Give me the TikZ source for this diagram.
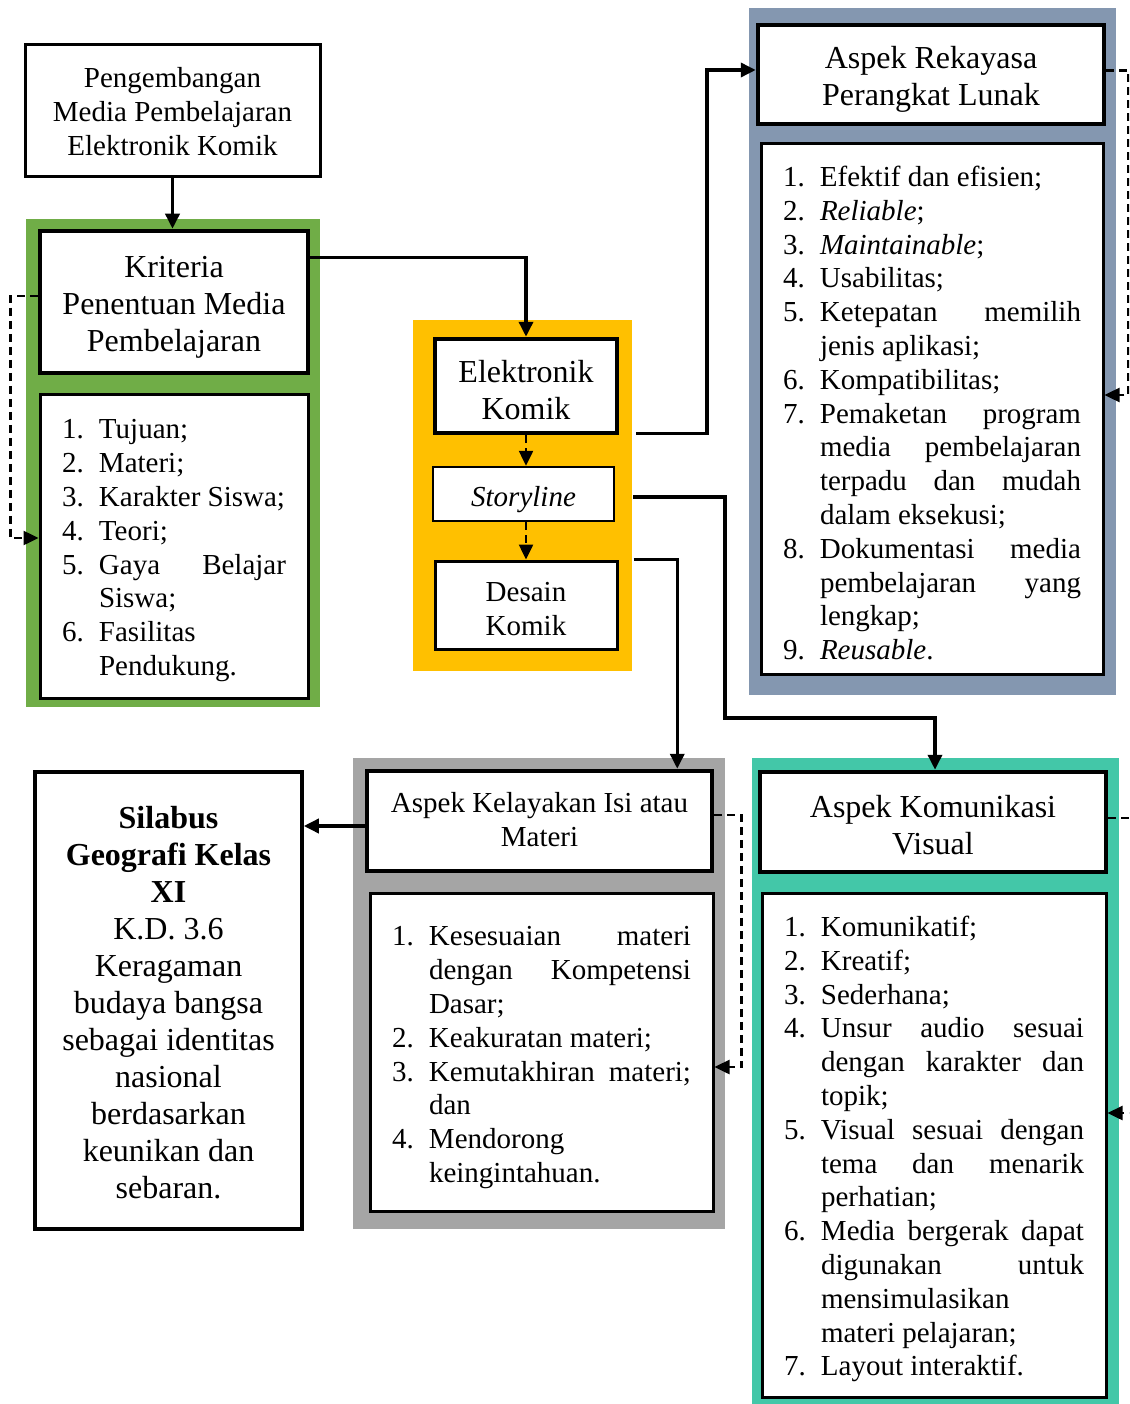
\documentclass[tikz,border=0pt]{standalone}
\usepackage{fontspec}
\setmainfont{Liberation Serif}
\usepackage{tikz}
\usetikzlibrary{positioning,arrows.meta}

\definecolor{panelgreen}{RGB}{112,173,71}
\definecolor{panelyellow}{RGB}{255,192,0}
\definecolor{panelblue}{RGB}{132,151,176}
\definecolor{panelgrey}{RGB}{165,165,165}
\definecolor{panelteal}{RGB}{67,199,168}

\hyphenpenalty=10000
\exhyphenpenalty=10000
\tolerance=10000
\newcommand{\butir}[2]{\par\noindent\hangindent=37pt\hangafter=1\makebox[37pt][l]{#1}#2\par}
\newcommand{\judul}[2]{\raisebox{-#1pt}[\height][\depth]{\begin{tabular}{@{}c@{}}#2\end{tabular}}}

\begin{document}
\begin{tikzpicture}[x=1pt, y=-1pt,
  titlebox/.style={draw, line width=4.5pt, fill=white, inner sep=0pt, font=\fontsize{32}{37}\selectfont},
  smallbox/.style={draw, line width=3pt, fill=white, inner sep=0pt, font=\fontsize{29}{34}\selectfont},
  listbox/.style={draw, line width=3pt, fill=white, align=justify, inner xsep=22pt, inner ysep=0pt, font=\fontsize{29}{33.8}\selectfont},
  conn/.style={line width=3.5pt, -{Triangle[length=15pt,width=14pt]}},
  dconn/.style={line width=2.5pt, dash pattern=on 8pt off 5pt, -{Triangle[length=15pt,width=14pt]}}]
  \useasboundingbox (0,0) rectangle (1129,1404);
  \clip (0,0) rectangle (1129,1404);

  % Panels
  \fill[panelgreen] (26,219) rectangle (320,707);
  \fill[panelyellow] (413,320) rectangle (632,671);
  \fill[panelblue] (749,8) rectangle (1116,695);
  \fill[panelgrey] (353,758) rectangle (725,1229);
  \fill[panelteal] (752,758) rectangle (1119,1404);

  % Left column
  \node[smallbox, minimum width=295, minimum height=132] (peng) at (172.5,111) {\judul{4}{Pengembangan\\Media Pembelajaran\\Elektronik Komik}};
  \node[titlebox, minimum width=268, minimum height=142] (krit) at (174,302) {\judul{5}{Kriteria\\Penentuan Media\\Pembelajaran}};
  \node[listbox, text width=224, minimum height=304] (kritlist) at (174,546) {%
    \vspace*{-5pt}
    \butir{1.}{Tujuan;}
    \butir{2.}{Materi;}
    \butir{3.}{Karakter Siswa;}
    \butir{4.}{Teori;}
    \butir{5.}{Gaya Belajar\linebreak Siswa;}
    \butir{6.}{Fasilitas Pendukung.}};

  % Comic
  \node[titlebox, minimum width=182, minimum height=94] (elek) at (526,386) {\judul{8}{Elektronik\\Komik}};
  \node[smallbox, line width=2.5pt, minimum width=181, minimum height=54] (story) at (523.5,494) {\judul{6}{\textit{Storyline}}};
  \node[smallbox, minimum width=182, minimum height=88] (desain) at (526,605) {\judul{7}{Desain\\Komik}};

  % Software aspect
  \node[titlebox, minimum width=346, minimum height=99] (rek) at (931,74.5) {\judul{5}{Aspek Rekayasa\\Perangkat Lunak}};
  \node[listbox, text width=298, minimum height=530] (reklist) at (932,409) {%
    \vspace*{-5pt}
    \butir{1.}{Efektif dan efisien;}
    \butir{2.}{\textit{Reliable};}
    \butir{3.}{\textit{Maintainable};}
    \butir{4.}{Usabilitas;}
    \butir{5.}{Ketepatan memilih\linebreak jenis aplikasi;}
    \butir{6.}{Kompatibilitas;}
    \butir{7.}{Pemaketan program\linebreak media pembelajaran\linebreak terpadu dan mudah\linebreak dalam eksekusi;}
    \butir{8.}{Dokumentasi media\linebreak pembelajaran yang\linebreak lengkap;}
    \butir{9.}{\textit{Reusable}.}};

  % Content aspect
  \node[smallbox, line width=4.5pt, minimum width=345, minimum height=100] (kel) at (539.5,821) {\judul{2}{Aspek Kelayakan Isi atau\\Materi}};
  \node[listbox, text width=299, minimum height=318] (kellist) at (541.5,1052) {%
    \vspace*{-3pt}
    \butir{1.}{Kesesuaian materi\linebreak dengan Kompetensi\linebreak Dasar;}
    \butir{2.}{Keakuratan materi;}
    \butir{3.}{Kemutakhiran materi; dan}
    \butir{4.}{Mendorong keingintahuan.}};

  % Visual aspect
  \node[titlebox, minimum width=346, minimum height=100] (kom) at (933,822) {\judul{7}{Aspek Komunikasi\\Visual}};
  \node[listbox, text width=300, minimum height=504] (komlist) at (934,1145) {%
    \vspace*{-5pt}
    \butir{1.}{Komunikatif;}
    \butir{2.}{Kreatif;}
    \butir{3.}{Sederhana;}
    \butir{4.}{Unsur audio sesuai\linebreak dengan karakter dan\linebreak topik;}
    \butir{5.}{Visual sesuai dengan\linebreak tema dan menarik\linebreak perhatian;}
    \butir{6.}{Media bergerak dapat\linebreak digunakan untuk\linebreak mensimulasikan materi pelajaran;}
    \butir{7.}{Layout interaktif.}};

  % Syllabus
  \node[titlebox, line width=3.5pt, minimum width=267, minimum height=457] (sil) at (168.5,1000.5) {\judul{6}{\textbf{Silabus}\\\textbf{Geografi Kelas}\\\textbf{XI}\\K.D. 3.6\\Keragaman\\budaya bangsa\\sebagai identitas\\nasional\\berdasarkan\\keunikan dan\\sebaran.}};

  % Bends
  \coordinate (bendA) at (725,718);

  % Arrows
  \draw[conn] (peng.south) -- (peng.south |- krit.north);
  \draw[conn] ([yshift=-29pt]krit.north east) -| (elek.north);
  \draw[conn] ([xshift=17pt,yshift=2pt]elek.south east) -| ([xshift=-49pt,yshift=4.5pt]rek.west) -- ([yshift=4.5pt]rek.west);
  \draw[conn] ([xshift=18pt,yshift=-3pt]story.east) -| (bendA) -| ([xshift=2pt]kom.north);
  \draw[conn] ([xshift=15pt]desain.north east) -| ([xshift=-37pt]kel.north east);
  \draw[conn] ([yshift=-5pt]kel.west) -- ([yshift=-5pt]kel.west -| sil.east);

  \draw[dconn] (elek.south) -- (elek.south |- story.north);
  \draw[dconn] (desain.north |- story.south) -- (desain.north);
  \draw[dconn] ([yshift=6pt]krit.west) -| ([xshift=-28pt,yshift=8pt]kritlist.west) -- ([yshift=8pt]kritlist.west);
  \draw[dconn] ([yshift=4pt]rek.east) -| ([xshift=24pt,yshift=14pt]reklist.east) -- ([yshift=14pt]reklist.east);
  \draw[dconn] ([yshift=6pt]kel.west -| kel.east) -| ([xshift=27pt,yshift=-15pt]kellist.east) -- ([yshift=-15pt]kellist.east);
  \draw[dconn] ([yshift=4pt]kom.east) -| ([xshift=30pt,yshift=32pt]komlist.east) -- ([yshift=32pt]komlist.east);
\end{tikzpicture}
\end{document}
